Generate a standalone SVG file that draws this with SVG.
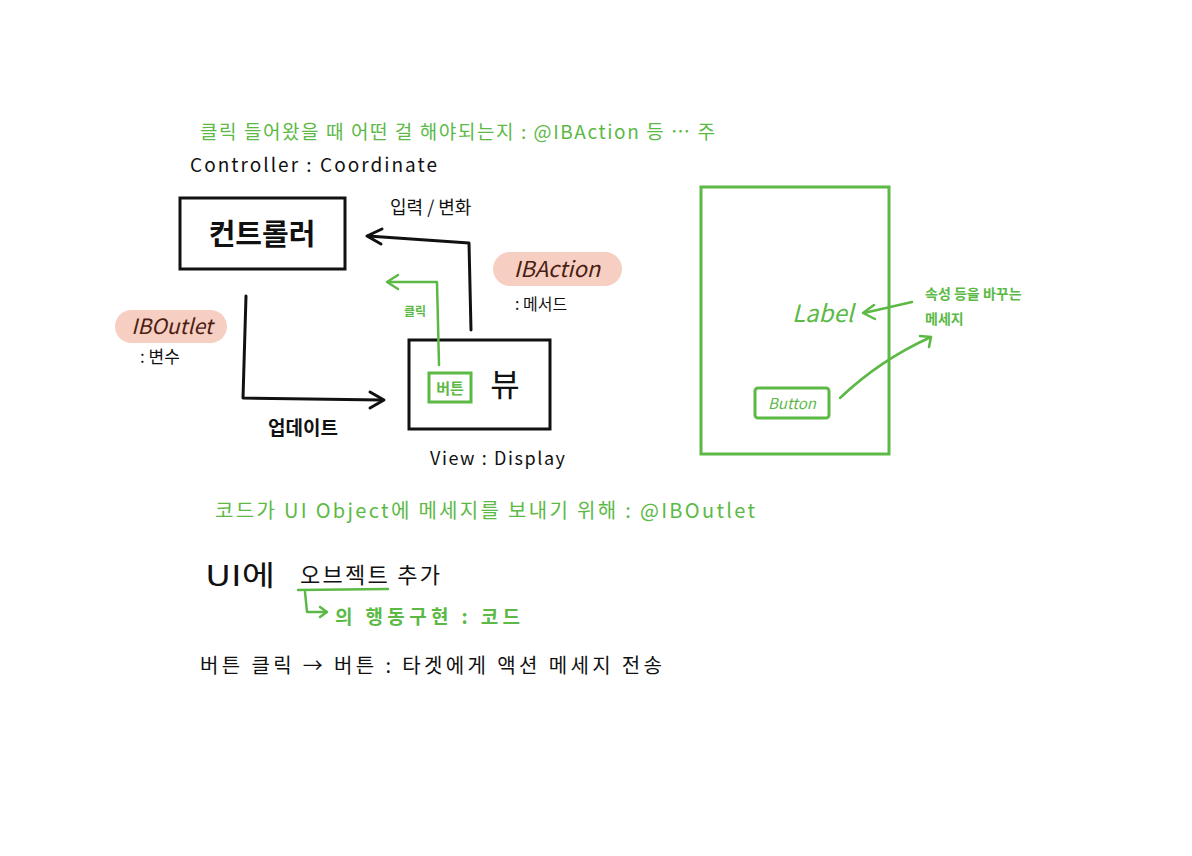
<svg xmlns="http://www.w3.org/2000/svg" width="1192" height="856" viewBox="0 0 1192 856">
<defs>
<style>
.k{font-family:"Noto Sans CJK KR","Noto Sans",sans-serif;fill:#111}
.g{font-family:"Noto Sans CJK KR","Noto Sans",sans-serif;fill:#5cb946}
.b{font-family:"Noto Sans CJK KR","Noto Sans",sans-serif;fill:#4a2013}
.box{fill:none;stroke:#111;stroke-width:3}
.gbox{fill:none;stroke:#5cb946;stroke-width:3}
.ln{fill:none;stroke:#111;stroke-width:3;stroke-linecap:round;stroke-linejoin:round}
.gln{fill:none;stroke:#5cb946;stroke-width:2.5;stroke-linecap:round;stroke-linejoin:round}
.pill{fill:#f7cfc2}
</style>
</defs>
<rect width="1192" height="856" fill="#fff"/>

<text class="g" x="200" y="139" font-size="19" textLength="515" lengthAdjust="spacing">클릭 들어왔을 때 어떤 걸 해야되는지 : @IBAction 등 … 주</text>
<text class="k" x="190" y="172" font-size="19" textLength="247" lengthAdjust="spacing">Controller : Coordinate</text>

<g id="controller">
<rect class="box" x="180" y="198" width="165" height="71"/>
<text class="k" x="262" y="245" font-size="29" text-anchor="middle" font-weight="bold">컨트롤러</text>
</g>

<g id="view">
<rect class="box" x="409" y="340" width="141" height="89"/>
<text class="k" x="505" y="396" font-size="32" text-anchor="middle">뷰</text>
<text class="k" x="430" y="465" font-size="18" textLength="135" lengthAdjust="spacing">View : Display</text>
</g>

<g id="button-in-view">
<rect class="gbox" x="429" y="373" width="42" height="29"/>
<text class="g" x="450" y="394" font-size="15" text-anchor="middle" font-weight="bold">버튼</text>
</g>

<g id="ibaction">
<rect class="pill" x="493" y="252" width="129" height="34" rx="17"/>
<text class="b" x="557" y="277" font-size="22" text-anchor="middle" font-style="italic">IBAction</text>
<text class="k" x="515" y="310" font-size="16">: 메서드</text>
</g>

<g id="iboutlet">
<rect class="pill" x="115" y="310" width="112" height="33" rx="16.5"/>
<text class="b" x="172" y="334" font-size="21" text-anchor="middle" font-style="italic">IBOutlet</text>
<text class="k" x="140" y="363" font-size="17">: 변수</text>
</g>

<g id="labels">
<text class="k" x="390" y="214" font-size="18">입력 / 변화</text>
<text class="g" x="404" y="316" font-size="12" font-weight="bold">클릭</text>
<text class="k" x="268" y="435" font-size="19" font-weight="bold">업데이트</text>
</g>

<g id="screen">
<rect class="gbox" x="701" y="187" width="188" height="267"/>
<text class="g" x="792" y="322" font-size="24" font-style="italic">Label</text>
<rect class="gbox" x="755" y="388" width="74" height="30" rx="3"/>
<text class="g" x="792" y="409" font-size="15" text-anchor="middle" font-style="italic">Button</text>
<text class="g" x="925" y="299" font-size="14" font-weight="bold">속성 등을 바꾸는</text>
<text class="g" x="925" y="324" font-size="14" font-weight="bold">메세지</text>
</g>

<g id="connectors">
<path class="ln" d="M471 330 L469 243 L368 236"/>
<path class="ln" d="M382 229 L367 236 L381 244"/>
<path class="gln" d="M439 365 L437 282 L388 282"/>
<path class="gln" d="M398 275 L387 282 L398 289"/>
<path class="ln" d="M246 296 L243 398 L382 400"/>
<path class="ln" d="M370 392 L384 400 L370 408"/>
<path class="gln" d="M912 302 L864 313"/>
<path class="gln" d="M874 305 L863 313 L875 319"/>
<path class="gln" d="M840 398 Q880 360 931 337"/>
<path class="gln" d="M920 336 L931 337 L929 347"/>
<path class="gln" d="M305 592 L307 612 L325 612"/>
<path class="gln" d="M320 607 L327 612 L320 617"/>
<path class="gln" d="M298 590 L388 589"/>
</g>

<text class="g" x="215" y="518" font-size="20" textLength="540" lengthAdjust="spacing">코드가 UI Object에 메세지를 보내기 위해 : @IBOutlet</text>

<text class="k" x="205" y="586" font-size="28" textLength="70" lengthAdjust="spacingAndGlyphs">UI에</text>
<text class="k" x="300" y="583" font-size="22" textLength="140" lengthAdjust="spacing">오브젝트 추가</text>
<text class="g" x="335" y="624" font-size="19" font-weight="bold" textLength="185" lengthAdjust="spacing">의 행동구현 : 코드</text>
<text class="k" x="200" y="673" font-size="20" textLength="462" lengthAdjust="spacing">버튼 클릭 → 버튼 : 타겟에게 액션 메세지 전송</text>
</svg>
